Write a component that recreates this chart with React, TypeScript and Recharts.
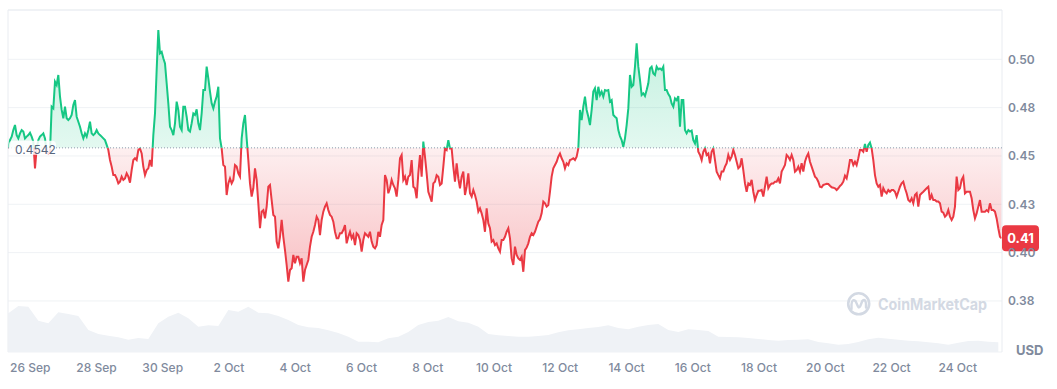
import React from 'react';
import { ComposedChart, Area, XAxis, YAxis, CartesianGrid, ReferenceLine } from 'recharts';

// ---- price series (USD), 597 samples, evenly spaced in time ----
const priceSep25to30 = [
  0.4540, 0.4582, 0.4600, 0.4634, 0.4660, 0.4608, 0.4591, 0.4617, 0.4634, 0.4626,
  0.4591, 0.4600, 0.4608, 0.4620, 0.4600, 0.4574, 0.4436, 0.4539, 0.4582, 0.4600,
  0.4608, 0.4617, 0.4591, 0.4522, 0.4513, 0.4522, 0.4755, 0.4746, 0.4884, 0.4867,
  0.4919, 0.4807, 0.4738, 0.4695, 0.4755, 0.4695, 0.4686, 0.4695, 0.4712, 0.4764,
  0.4789, 0.4703, 0.4677, 0.4651, 0.4617, 0.4591, 0.4617, 0.4600, 0.4634, 0.4677,
  0.4617, 0.4608, 0.4617, 0.4634, 0.4617, 0.4608, 0.4600, 0.4591, 0.4582, 0.4557,
  0.4531, 0.4479, 0.4445, 0.4401, 0.4401, 0.4384, 0.4358, 0.4367, 0.4393, 0.4376,
  0.4384, 0.4410, 0.4393, 0.4362, 0.4427, 0.4479, 0.4488, 0.4479, 0.4531, 0.4539,
  0.4513, 0.4445, 0.4401, 0.4427, 0.4436, 0.4479, 0.4445, 0.4608, 0.4720, 0.4945,
  0.5151, 0.5031, 0.5039, 0.5005, 0.4979, 0.4876, 0.4772,
];
const priceSep30toOct5 = [
  0.4651, 0.4634, 0.4608, 0.4669, 0.4781, 0.4738, 0.4651, 0.4634, 0.4755, 0.4755,
  0.4703, 0.4634, 0.4626, 0.4669, 0.4720, 0.4712, 0.4741, 0.4669, 0.4634, 0.4720,
  0.4841, 0.4841, 0.4962, 0.4901, 0.4833, 0.4772, 0.4746, 0.4781, 0.4807, 0.4858,
  0.4591, 0.4539, 0.4453, 0.4445, 0.4298, 0.4358, 0.4384, 0.4358, 0.4376, 0.4453,
  0.4445, 0.4410, 0.4393, 0.4591, 0.4669, 0.4712, 0.4591, 0.4479, 0.4358, 0.4290,
  0.4333, 0.4436, 0.4376, 0.4255, 0.4126, 0.4212, 0.4220, 0.4177, 0.4238, 0.4341,
  0.4350, 0.4272, 0.4195, 0.4186, 0.4057, 0.4022, 0.4082, 0.4169, 0.4082, 0.4013,
  0.3936, 0.3850, 0.3910, 0.3919, 0.3988, 0.3945, 0.3979, 0.3979, 0.3945, 0.3970,
  0.3850, 0.3910, 0.3936, 0.3962, 0.4031, 0.4082, 0.4108, 0.4143, 0.4186, 0.4169,
  0.4091, 0.4169, 0.4212, 0.4238, 0.4255, 0.4220, 0.4195, 0.4186, 0.4160, 0.4108,
  0.4074, 0.4074,
];
const priceOct5to10 = [
  0.4100, 0.4100, 0.4117, 0.4143, 0.4048, 0.4082, 0.4108, 0.4074, 0.4091, 0.4039,
  0.4100, 0.4091, 0.4065, 0.4005, 0.4065, 0.4100, 0.4091, 0.4082, 0.4108, 0.4057,
  0.4031, 0.4022, 0.4039, 0.4108, 0.4082, 0.4143, 0.4169, 0.4401, 0.4376, 0.4307,
  0.4333, 0.4376, 0.4350, 0.4333, 0.4290, 0.4376, 0.4488, 0.4505, 0.4376, 0.4393,
  0.4350, 0.4393, 0.4401, 0.4479, 0.4341, 0.4333, 0.4281, 0.4410, 0.4505, 0.4393,
  0.4574, 0.4496, 0.4410, 0.4315, 0.4290, 0.4264, 0.4358, 0.4367, 0.4401, 0.4393,
  0.4350, 0.4358, 0.4445, 0.4539, 0.4531, 0.4582, 0.4539, 0.4539, 0.4445, 0.4367,
  0.4462, 0.4384, 0.4333, 0.4393, 0.4419, 0.4298, 0.4341, 0.4410, 0.4307, 0.4290,
  0.4324, 0.4298, 0.4264, 0.4212, 0.4229, 0.4203, 0.4169, 0.4108, 0.4229, 0.4151,
  0.4126, 0.4057, 0.4065, 0.4039, 0.4048, 0.4022, 0.4005, 0.4065, 0.4065, 0.4082,
  0.4108, 0.4126,
];
const priceOct10to15 = [
  0.4074, 0.3970, 0.3936, 0.4031, 0.3988, 0.3970, 0.3962, 0.3979, 0.3901, 0.4013,
  0.4026, 0.4048, 0.4082, 0.4100, 0.4091, 0.4108, 0.4134, 0.4160, 0.4172, 0.4203,
  0.4264, 0.4255, 0.4238, 0.4246, 0.4315, 0.4393, 0.4436, 0.4453, 0.4470, 0.4496,
  0.4513, 0.4488, 0.4470, 0.4436, 0.4462, 0.4453, 0.4479, 0.4482, 0.4488, 0.4479,
  0.4496, 0.4539, 0.4738, 0.4686, 0.4755, 0.4807, 0.4738, 0.4703, 0.4660, 0.4738,
  0.4833, 0.4850, 0.4789, 0.4858, 0.4815, 0.4833, 0.4807, 0.4841, 0.4838, 0.4841,
  0.4781, 0.4789, 0.4712, 0.4703, 0.4695, 0.4634, 0.4603, 0.4582, 0.4548, 0.4591,
  0.4660, 0.4746, 0.4919, 0.4858, 0.4867, 0.4962, 0.5082, 0.4962, 0.4893, 0.4815,
  0.4824, 0.4810, 0.4841, 0.4876, 0.4953, 0.4962, 0.4927, 0.4919, 0.4962, 0.4948,
  0.4953, 0.4945, 0.4962, 0.4841, 0.4841, 0.4820, 0.4807, 0.4772, 0.4755, 0.4798,
  0.4789, 0.4810,
];
const priceOct15to20 = [
  0.4651, 0.4789, 0.4789, 0.4634, 0.4617, 0.4634, 0.4626, 0.4631, 0.4582, 0.4565,
  0.4608, 0.4522, 0.4505, 0.4479, 0.4522, 0.4539, 0.4505, 0.4513, 0.4462, 0.4522,
  0.4539, 0.4479, 0.4419, 0.4401, 0.4384, 0.4419, 0.4419, 0.4445, 0.4462, 0.4505,
  0.4479, 0.4496, 0.4531, 0.4505, 0.4470, 0.4436, 0.4445, 0.4488, 0.4427, 0.4358,
  0.4315, 0.4358, 0.4350, 0.4376, 0.4315, 0.4272, 0.4298, 0.4320, 0.4320, 0.4324,
  0.4290, 0.4341, 0.4393, 0.4333, 0.4350, 0.4358, 0.4358, 0.4367, 0.4367, 0.4384,
  0.4358, 0.4419, 0.4436, 0.4453, 0.4505, 0.4496, 0.4479, 0.4505, 0.4479, 0.4419,
  0.4427, 0.4445, 0.4419, 0.4462, 0.4419, 0.4470, 0.4496, 0.4513, 0.4470, 0.4445,
  0.4419, 0.4393, 0.4384, 0.4367, 0.4341, 0.4338, 0.4350, 0.4353, 0.4356, 0.4355,
  0.4346, 0.4338, 0.4336, 0.4333, 0.4324, 0.4333, 0.4345, 0.4353, 0.4367, 0.4398,
  0.4384, 0.4427,
];
const priceOct20to25 = [
  0.4479, 0.4479, 0.4453, 0.4470, 0.4453, 0.4488, 0.4531, 0.4531, 0.4522, 0.4562,
  0.4522, 0.4557, 0.4569, 0.4539, 0.4479, 0.4401, 0.4358, 0.4341, 0.4350, 0.4290,
  0.4333, 0.4315, 0.4307, 0.4324, 0.4315, 0.4324, 0.4324, 0.4315, 0.4290, 0.4315,
  0.4341, 0.4358, 0.4367, 0.4333, 0.4307, 0.4272, 0.4264, 0.4281, 0.4255, 0.4298,
  0.4307, 0.4238, 0.4298, 0.4307, 0.4315, 0.4324, 0.4333, 0.4341, 0.4272, 0.4298,
  0.4272, 0.4272, 0.4264, 0.4264, 0.4255, 0.4212, 0.4207, 0.4186, 0.4195, 0.4220,
  0.4186, 0.4169, 0.4186, 0.4238, 0.4393, 0.4324, 0.4333, 0.4376, 0.4393, 0.4307,
  0.4315, 0.4315, 0.4315, 0.4281, 0.4220, 0.4177, 0.4203, 0.4238, 0.4272, 0.4212,
  0.4212, 0.4212, 0.4220, 0.4212, 0.4255, 0.4220, 0.4220, 0.4212, 0.4177, 0.4126,
  0.4082, 0.4074,
];

// ---- 24h volume (USD millions), one sample every 6 price samples ----
const volumes = [
  387, 460, 453, 313, 287, 397, 380, 360, 220, 180,
  163, 147, 123, 140, 130, 287, 353, 393, 337, 253,
  267, 260, 420, 403, 453, 393, 387, 360, 320, 270,
  247, 240, 217, 190, 153, 103, 103, 97, 137, 153,
  200, 270, 300, 313, 350, 307, 293, 253, 180, 167,
  160, 153, 153, 160, 170, 197, 217, 227, 240, 250,
  267, 240, 227, 253, 270, 280, 220, 200, 227, 220,
  210, 153, 150, 147, 140, 130, 120, 113, 120, 123,
  127, 100, 87, 73, 80, 100, 127, 143, 133, 123,
  113, 107, 97, 87, 73, 93, 110, 113, 103, 97,
];

// time axis: days relative to 26 Sep 00:00
const START_DAY = -0.66;
const STEP_DAY = 0.050307;
const VOLUME_EVERY = 6;
const X_MIN = -0.67;
const X_MAX = 29.334;

const BASE_PRICE = 0.4542;
const Y_MIN = 0.3486;
const Y_MAX = 0.5255;
const VOL_MAX = 3420;

const xTicks = [0, 2, 4, 6, 8, 10, 12, 14, 16, 18, 20, 22, 24, 26, 28];
const xTickLabels = ['26 Sep', '28 Sep', '30 Sep', '2 Oct', '4 Oct', '6 Oct', '8 Oct', '10 Oct', '12 Oct', '14 Oct', '16 Oct', '18 Oct', '20 Oct', '22 Oct', '24 Oct'];
const yTicks = [0.375, 0.4, 0.425, 0.45, 0.475, 0.5];
const yTickLabels = ['0.38', '0.40', '0.43', '0.45', '0.48', '0.50'];

const prices = [
  ...priceSep25to30,
  ...priceSep30toOct5,
  ...priceOct5to10,
  ...priceOct10to15,
  ...priceOct15to20,
  ...priceOct20to25,
];

const data = prices.map((p, i) => ({
  t: START_DAY + i * STEP_DAY,
  price: p,
  volume: i % VOLUME_EVERY === 0 ? volumes[i / VOLUME_EVERY] : undefined,
}));

const LAST_PRICE = prices[prices.length - 1];
const P_MAX = Math.max(...prices);
const P_MIN = Math.min(...prices);
const SPLIT = (P_MAX - BASE_PRICE) / (P_MAX - P_MIN);

const GREEN = '#16c784';
const RED = '#ea3943';
const FONT = 'Inter, "Noto Sans", sans-serif';

const BaseLabel = (props: any) => {
  const vb = props.viewBox || {};
  const x = vb.x ?? 0;
  const y = vb.y ?? 0;
  return (
    <g>
      <rect x={x + 1} y={y - 7} width={47} height={14} rx={4} fill="#ffffff" fillOpacity={0.85} />
      <text x={x + 7} y={y + 6} fontSize={12} fontFamily={FONT} fill="#58667e">
        {BASE_PRICE.toFixed(4)}
      </text>
    </g>
  );
};

const PriceBadge = (props: any) => {
  const vb = props.viewBox || {};
  const x = (vb.x ?? 0) + (vb.width ?? 0);
  const y = vb.y ?? 0;
  return (
    <g>
      <rect x={x} y={y - 13} width={37} height={26} rx={4} fill={RED} />
      <text x={x + 18.5} y={y + 4.5} textAnchor="middle" fontSize={13} fontWeight={700} fontFamily={FONT} fill="#ffffff">
        {LAST_PRICE.toFixed(2)}
      </text>
    </g>
  );
};

export default function App() {
  return (
    <div style={{ position: 'absolute', left: 0, top: 0, width: 1057, height: 389, fontFamily: FONT, background: '#fff' }}>
      <ComposedChart width={1057} height={389} data={data} margin={{ top: 10, right: 0, bottom: 0, left: 8 }}>
        <defs>
          <linearGradient id="priceStroke" x1="0" y1="0" x2="0" y2="1">
            <stop offset={0} stopColor={GREEN} />
            <stop offset={SPLIT} stopColor={GREEN} />
            <stop offset={SPLIT} stopColor={RED} />
            <stop offset={1} stopColor={RED} />
          </linearGradient>
          <linearGradient id="priceFill" x1="0" y1="0" x2="0" y2="1">
            <stop offset={0} stopColor={GREEN} stopOpacity={0.27} />
            <stop offset={SPLIT} stopColor={GREEN} stopOpacity={0.12} />
            <stop offset={SPLIT} stopColor={RED} stopOpacity={0.08} />
            <stop offset={1} stopColor={RED} stopOpacity={0.32} />
          </linearGradient>
        </defs>
        <CartesianGrid vertical={false} stroke="#eff2f5" />
        <XAxis
          dataKey="t"
          type="number"
          domain={[X_MIN, X_MAX]}
          allowDataOverflow
          ticks={xTicks}
          tickFormatter={(v: number) => xTickLabels[xTicks.indexOf(v)] ?? ''}
          axisLine={false}
          tickLine={false}
          tickSize={0}
          tickMargin={11}
          height={37}
          interval={0}
          tick={{ fontSize: 12, fill: '#808a9d', fontFamily: FONT, fontWeight: 500 }}
        />
        <YAxis
          orientation="right"
          domain={[Y_MIN, Y_MAX]}
          allowDataOverflow
          ticks={yTicks}
          tickFormatter={(v: number) => yTickLabels[yTicks.indexOf(v)] ?? ''}
          axisLine={false}
          tickLine={false}
          tickSize={0}
          tickMargin={6}
          width={55}
          interval={0}
          tick={{ fontSize: 12, fill: '#808a9d', fontFamily: FONT, fontWeight: 600 }}
        />
        <YAxis yAxisId="vol" hide domain={[0, VOL_MAX]} />
        <Area
          yAxisId="vol"
          type="linear"
          dataKey="volume"
          connectNulls
          stroke="none"
          fill="#eff2f6"
          fillOpacity={1}
          isAnimationActive={false}
          dot={false}
          activeDot={false}
        />
        <Area
          type="linear"
          dataKey="price"
          baseValue={BASE_PRICE}
          stroke="url(#priceStroke)"
          strokeWidth={2}
          fill="url(#priceFill)"
          fillOpacity={1}
          isAnimationActive={false}
          dot={false}
          activeDot={false}
        />
        <ReferenceLine y={Y_MAX} stroke="#e9ecf1" />
        <ReferenceLine x={X_MIN} stroke="#e9ecf1" />
        <ReferenceLine x={X_MAX} stroke="#e9ecf1" />
        <ReferenceLine y={BASE_PRICE} stroke="#8f98ab" strokeDasharray="1 2" label={(p: any) => <BaseLabel {...p} />} />
        <ReferenceLine y={LAST_PRICE} stroke="none" label={(p: any) => <PriceBadge {...p} />} />
      </ComposedChart>
      <svg width={1057} height={389} style={{ position: 'absolute', left: 0, top: 0, pointerEvents: 'none' }}>
        <g opacity={1}>
          <circle cx={858.7} cy={303.8} r={10.5} fill="none" stroke="#d3d9e3" strokeWidth={2.6} />
          <path
            d="M851.5,309 L851.5,304.5 Q852,298.5 855.5,301 L858,306.5 Q859,308.5 860.2,306.2 L862.3,301 Q865.5,298 866,304 L866,307.5"
            fill="none"
            stroke="#d3d9e3"
            strokeWidth={2.4}
            strokeLinecap="round"
            strokeLinejoin="round"
          />
          <text x={878} y={310} fontSize={15.5} fontWeight={700} fontFamily={FONT} fill="#d3d9e3" textLength={109} lengthAdjust="spacingAndGlyphs">
            CoinMarketCap
          </text>
        </g>
        <text x={1016} y={354.5} fontSize={13} fontWeight={700} fontFamily={FONT} fill="#808a9d">
          USD
        </text>
      </svg>
    </div>
  );
}
